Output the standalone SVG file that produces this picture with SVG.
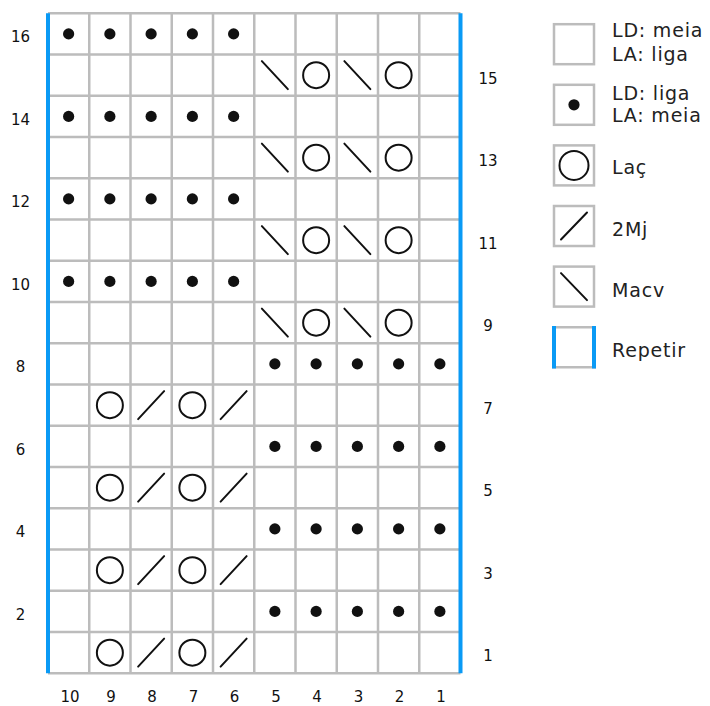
<svg xmlns="http://www.w3.org/2000/svg" xmlns:xlink="http://www.w3.org/1999/xlink" width="710" height="706" viewBox="0 0 710 706">
<style>
.g{stroke:#bcbcbc;stroke-width:2.5;fill:none}
.b{stroke:#0a9af5;stroke-width:4;fill:none}
.s{stroke:#111;stroke-width:2;fill:none;stroke-linecap:round}
.n{font-family:"DejaVu Sans",sans-serif;font-size:15px;fill:#111;text-anchor:middle}
.l{font-family:"DejaVu Sans",sans-serif;font-size:19px;fill:#222;letter-spacing:0.8px}
</style>
<defs>
<circle id="dot" r="5.6" fill="#111"/>
<circle id="yo" r="13" class="s"/>
<line id="sl" x1="-13" y1="14" x2="13" y2="-14" class="s"/>
<line id="bs" x1="-13" y1="-14" x2="13" y2="14" class="s"/>
</defs>
<rect width="710" height="706" fill="#fff"/>
<g id="grid">
<path class="g" d="M48 13.25H460.5M48 54.5H460.5M48 95.75H460.5M48 137H460.5M48 178.25H460.5M48 219.5H460.5M48 260.75H460.5M48 302H460.5M48 343.25H460.5M48 384.5H460.5M48 425.75H460.5M48 467H460.5M48 508.25H460.5M48 549.5H460.5M48 590.75H460.5M48 632H460.5M48 673.25H460.5"/>
<path class="g" d="M89.25 13.25V673.25M130.5 13.25V673.25M171.75 13.25V673.25M213 13.25V673.25M254.25 13.25V673.25M295.5 13.25V673.25M336.75 13.25V673.25M378 13.25V673.25M419.25 13.25V673.25"/>
<path class="b" d="M48 13.25V673.25M460.5 13.25V673.25"/>
</g>
<g id="symbols">
<g id="purl-top">
<use href="#dot" x="68.625" y="33.875"/><use href="#dot" x="109.875" y="33.875"/><use href="#dot" x="151.125" y="33.875"/><use href="#dot" x="192.375" y="33.875"/><use href="#dot" x="233.625" y="33.875"/>
<use href="#dot" x="68.625" y="116.375"/><use href="#dot" x="109.875" y="116.375"/><use href="#dot" x="151.125" y="116.375"/><use href="#dot" x="192.375" y="116.375"/><use href="#dot" x="233.625" y="116.375"/>
<use href="#dot" x="68.625" y="198.875"/><use href="#dot" x="109.875" y="198.875"/><use href="#dot" x="151.125" y="198.875"/><use href="#dot" x="192.375" y="198.875"/><use href="#dot" x="233.625" y="198.875"/>
<use href="#dot" x="68.625" y="281.375"/><use href="#dot" x="109.875" y="281.375"/><use href="#dot" x="151.125" y="281.375"/><use href="#dot" x="192.375" y="281.375"/><use href="#dot" x="233.625" y="281.375"/>
</g>
<g id="purl-bottom">
<use href="#dot" x="274.875" y="363.875"/><use href="#dot" x="316.125" y="363.875"/><use href="#dot" x="357.375" y="363.875"/><use href="#dot" x="398.625" y="363.875"/><use href="#dot" x="439.875" y="363.875"/>
<use href="#dot" x="274.875" y="446.375"/><use href="#dot" x="316.125" y="446.375"/><use href="#dot" x="357.375" y="446.375"/><use href="#dot" x="398.625" y="446.375"/><use href="#dot" x="439.875" y="446.375"/>
<use href="#dot" x="274.875" y="528.875"/><use href="#dot" x="316.125" y="528.875"/><use href="#dot" x="357.375" y="528.875"/><use href="#dot" x="398.625" y="528.875"/><use href="#dot" x="439.875" y="528.875"/>
<use href="#dot" x="274.875" y="611.375"/><use href="#dot" x="316.125" y="611.375"/><use href="#dot" x="357.375" y="611.375"/><use href="#dot" x="398.625" y="611.375"/><use href="#dot" x="439.875" y="611.375"/>
</g>
<g id="lace-top">
<use href="#bs" x="274.875" y="75.125"/><use href="#yo" x="316.125" y="75.125"/><use href="#bs" x="357.375" y="75.125"/><use href="#yo" x="398.625" y="75.125"/>
<use href="#bs" x="274.875" y="157.625"/><use href="#yo" x="316.125" y="157.625"/><use href="#bs" x="357.375" y="157.625"/><use href="#yo" x="398.625" y="157.625"/>
<use href="#bs" x="274.875" y="240.125"/><use href="#yo" x="316.125" y="240.125"/><use href="#bs" x="357.375" y="240.125"/><use href="#yo" x="398.625" y="240.125"/>
<use href="#bs" x="274.875" y="322.625"/><use href="#yo" x="316.125" y="322.625"/><use href="#bs" x="357.375" y="322.625"/><use href="#yo" x="398.625" y="322.625"/>
</g>
<g id="lace-bottom">
<use href="#yo" x="109.875" y="405.125"/><use href="#sl" x="151.125" y="405.125"/><use href="#yo" x="192.375" y="405.125"/><use href="#sl" x="233.625" y="405.125"/>
<use href="#yo" x="109.875" y="487.625"/><use href="#sl" x="151.125" y="487.625"/><use href="#yo" x="192.375" y="487.625"/><use href="#sl" x="233.625" y="487.625"/>
<use href="#yo" x="109.875" y="570.125"/><use href="#sl" x="151.125" y="570.125"/><use href="#yo" x="192.375" y="570.125"/><use href="#sl" x="233.625" y="570.125"/>
<use href="#yo" x="109.875" y="652.625"/><use href="#sl" x="151.125" y="652.625"/><use href="#yo" x="192.375" y="652.625"/><use href="#sl" x="233.625" y="652.625"/>
</g>
</g>
<g id="row-labels-left">
<text class="n" x="20.5" y="42.4">16</text>
<text class="n" x="20.5" y="124.9">14</text>
<text class="n" x="20.5" y="207.4">12</text>
<text class="n" x="20.5" y="289.9">10</text>
<text class="n" x="20.5" y="372.4">8</text>
<text class="n" x="20.5" y="454.9">6</text>
<text class="n" x="20.5" y="537.4">4</text>
<text class="n" x="20.5" y="619.9">2</text>
</g>
<g id="row-labels-right">
<text class="n" x="488" y="83.6">15</text>
<text class="n" x="488" y="166.1">13</text>
<text class="n" x="488" y="248.6">11</text>
<text class="n" x="488" y="331.1">9</text>
<text class="n" x="488" y="413.6">7</text>
<text class="n" x="488" y="496.1">5</text>
<text class="n" x="488" y="578.6">3</text>
<text class="n" x="488" y="661.1">1</text>
</g>
<g id="col-labels">
<text class="n" x="70" y="702">10</text>
<text class="n" x="110.9" y="702">9</text>
<text class="n" x="152.1" y="702">8</text>
<text class="n" x="193.4" y="702">7</text>
<text class="n" x="234.6" y="702">6</text>
<text class="n" x="275.9" y="702">5</text>
<text class="n" x="317.1" y="702">4</text>
<text class="n" x="358.4" y="702">3</text>
<text class="n" x="399.6" y="702">2</text>
<text class="n" x="440.9" y="702">1</text>
</g>
<g id="legend">
<g id="leg-knit">
<rect class="g" x="554" y="24.2" width="40" height="40"/>
<text class="l" x="612" y="37">LD: meia</text>
<text class="l" x="612" y="60.5">LA: liga</text>
</g>
<g id="leg-purl">
<rect class="g" x="554" y="84.8" width="40" height="40"/>
<use href="#dot" x="574" y="104.8"/>
<text class="l" x="612" y="99.5">LD: liga</text>
<text class="l" x="612" y="122">LA: meia</text>
</g>
<g id="leg-yo">
<rect class="g" x="554" y="145.4" width="40" height="40"/>
<circle class="s" cx="574" cy="165.4" r="14.5"/>
<text class="l" x="612" y="174">Laç</text>
</g>
<g id="leg-k2tog">
<rect class="g" x="554" y="206" width="40" height="40"/>
<line class="s" x1="561" y1="239.5" x2="587" y2="212.5"/>
<text class="l" x="612" y="236">2Mj</text>
</g>
<g id="leg-ssk">
<rect class="g" x="554" y="266.6" width="40" height="40"/>
<line class="s" x1="561" y1="273.1" x2="587" y2="300.1"/>
<text class="l" x="612" y="296.5">Macv</text>
</g>
<g id="leg-repeat">
<path class="g" d="M552 327.2H596M552 367.2H596"/>
<path class="b" d="M554 326V368.4M594 326V368.4"/>
<text class="l" x="612" y="356.5">Repetir</text>
</g>
</g>
</svg>
